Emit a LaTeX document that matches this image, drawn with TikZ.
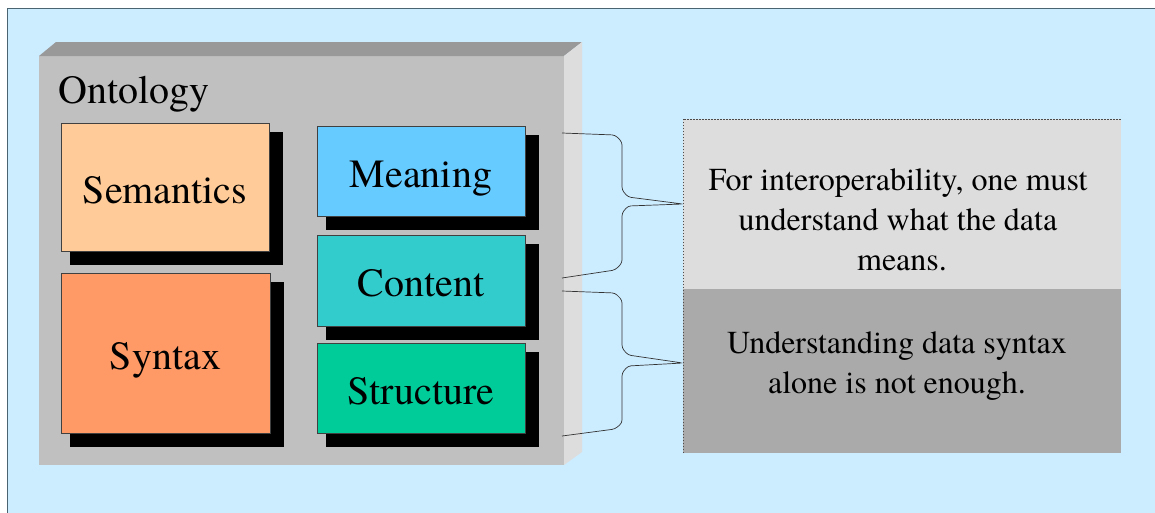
\documentclass[tikz,border=0pt]{standalone}
\usepackage{fontspec}
\setmainfont{TeX Gyre Termes}
\newfontfamily\timesish{TeX Gyre Termes}
\pgfdeclarelayer{bg}
\pgfdeclarelayer{shad}
\pgfsetlayers{bg,shad,main}
\definecolor{skyback}{HTML}{CCECFF}
\definecolor{framecol}{HTML}{4A6472}
\definecolor{ontfront}{HTML}{C0C0C0}
\definecolor{onttop}{HTML}{999999}
\definecolor{ontside}{HTML}{DDDDDD}
\definecolor{semcol}{HTML}{FFCC99}
\definecolor{syncol}{HTML}{FF9966}
\definecolor{meancol}{HTML}{66CCFF}
\definecolor{contcol}{HTML}{33CCCC}
\definecolor{strucol}{HTML}{00CC99}
\definecolor{noteA}{HTML}{DDDDDD}
\definecolor{noteB}{HTML}{AAAAAA}
\begin{document}
\begin{tikzpicture}[x=1pt,y=-1pt,
  boxst/.style={draw=black!75, line width=0.8pt, minimum width=208pt, inner sep=0pt,
    text height=32pt, text depth=0pt, font=\timesish\fontsize{40}{48}\selectfont},
  notebox/.style={minimum width=438pt, inner sep=0pt},
  txt/.style={font=\timesish\fontsize{32}{40}\selectfont, anchor=base, inner sep=0pt},
  brace/.style={draw=black!80, line width=0.7pt, rounded corners=3pt}]
\useasboundingbox (0,0) rectangle (1155,512);
\begin{pgfonlayer}{bg}
  \fill[white] (0,0) rectangle (1155,512);
  \fill[skyback] (7.5,8.5) rectangle (1160,520);
  \draw[framecol, line width=1.2pt] (7.5,520) -- (7.5,8.5) -- (1160,8.5);
  \node[fill=ontfront, minimum width=525pt, minimum height=409pt, inner sep=0pt, outer sep=0pt] (onto) at (301.5,260.5) {};
  \fill[onttop] (onto.north west) -- ([shift={(17,-14)}]onto.north west)
     -- ([shift={(18,-14)}]onto.north east) -- (onto.north east) -- cycle;
  \fill[ontside] (onto.north east) -- ([shift={(18,-14)}]onto.north east)
     -- ([shift={(18,-13)}]onto.south east) -- (onto.south east) -- cycle;
\end{pgfonlayer}

\node[anchor=base west, font=\timesish\fontsize{40}{48}\selectfont, inner sep=0pt] (ontlbl) at (58.5,103) {Ontology};

\node[boxst, fill=semcol, minimum height=128pt] (sem) at (165,187) {Semantics};
\node[boxst, fill=syncol, minimum width=209pt, minimum height=160pt] (syn) at (165.5,353) {Syntax};
\node[boxst, fill=meancol, minimum height=90pt] (mean) at (421,171) {Meaning};
\node[boxst, fill=contcol, minimum height=91pt] (cont) at (421,280.5) {Content};
\node[boxst, fill=strucol, minimum height=90pt] (stru) at (421,388) {Structure};

\begin{pgfonlayer}{shad}
  \foreach \n in {sem,syn,mean,cont,stru}
    \fill[black] ([shift={(9,9)}]\n.north west) rectangle ([shift={(14,14)}]\n.south east);
\end{pgfonlayer}

\node[notebox, fill=noteA, minimum height=170pt] (top) at (902,204) {};
\node[notebox, fill=noteB, minimum height=164pt] (bot) at (902,371) {};
\draw[black!70, line width=0.6pt, dash pattern=on 1.5pt off 1.5pt]
  (bot.south west) -- (top.north west) -- (top.north east);

\node[txt] (ta) at (898,190) {For interoperability, one must};
\node[txt] (tb) at (898,230) {understand what the data};
\node[txt] (tc) at (902,270) {means.};
\node[txt] (td) at (897,353) {Understanding data syntax};
\node[txt] (te) at (897,393) {alone is not enough.};

\coordinate (b1s) at (562,133);
\coordinate (b1e) at (562,278);
\coordinate (b2s) at (562,291);
\coordinate (b2e) at (562,436);
\draw[brace] (b1s) -- (615,135) -- (622,142) -- (622,190) -- (628,197) -- (top.west)
  -- (628,206) -- (622,213) -- (622,263) -- (615,270) -- (b1e);
\draw[brace] (b2s) -- (615,293) -- (622,300) -- (622,348) -- (628,355) -- ([yshift=8pt]bot.west)
  -- (628,366) -- (622,373) -- (622,423) -- (615,429) -- (b2e);
\end{tikzpicture}
\end{document}
